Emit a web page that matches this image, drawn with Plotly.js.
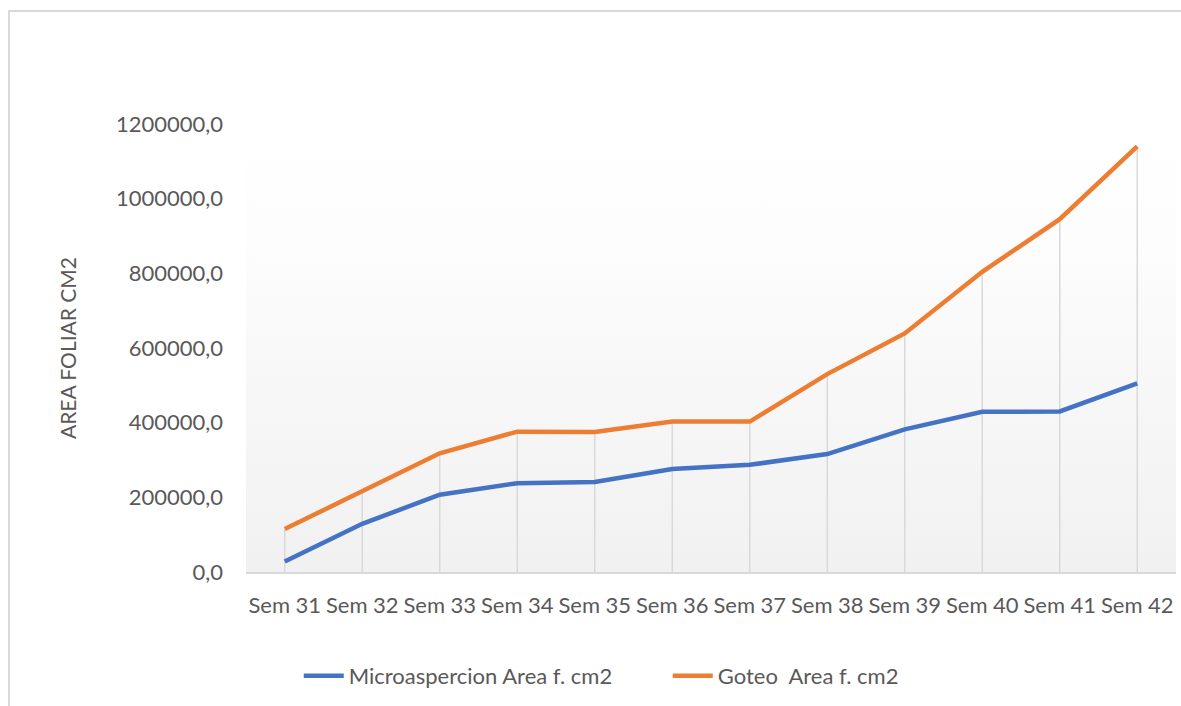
<!DOCTYPE html>
<html>
<head>
<meta charset="utf-8">
<script src="https://cdn.plot.ly/plotly-3.0.1.min.js"></script>
<style>
  html, body { margin: 0; padding: 0; background: #ffffff; }
  #wrap { position: relative; width: 1181px; height: 706px; overflow: hidden; }
  #frame { position: absolute; left: 8px; top: 10px; width: 1200px; height: 720px;
           border-left: 2px solid #d9d9d9; border-top: 2px solid #d9d9d9; box-sizing: border-box; }
  #plotbg { position: absolute; background: linear-gradient(to bottom, #ffffff 0%, #fdfdfd 25%, #f7f7f7 60%, #f1f1f1 100%); }
  #chart { position: absolute; left: 0; top: 0; width: 1181px; height: 706px; }
</style>
</head>
<body>
<div id="wrap">
  <div id="frame"></div>
  <div id="plotbg"></div>
  <div id="chart"></div>
</div>
<script>
// Weekly leaf area (cm2) for the two irrigation systems
const weeks = ["Sem 31", "Sem 32", "Sem 33", "Sem 34", "Sem 35", "Sem 36",
               "Sem 37", "Sem 38", "Sem 39", "Sem 40", "Sem 41", "Sem 42"];
const microaspercion = [28000, 129000, 207000, 238000, 241000, 276000,
                        287000, 316000, 382000, 429000, 430000, 505000];
const goteo = [115000, 216000, 318000, 376000, 375000, 403000,
               403000, 530000, 639000, 804000, 945000, 1140000];
const seriesNames = ["Microaspercion Area f. cm2", "Goteo  Area f. cm2"];
const yTicks = [0, 200000, 400000, 600000, 800000, 1000000, 1200000];

const W = 1181, H = 706;
const margin = { l: 246, r: 5, t: 124, b: 134 };

// gradient panel behind the plotting area
const bg = document.getElementById('plotbg');
bg.style.left = margin.l + 'px';
bg.style.top = margin.t + 'px';
bg.style.width = (W - margin.l - margin.r) + 'px';
bg.style.height = (H - margin.t - margin.b) + 'px';

// drop lines: from the axis up to the highest series value of each week
const dropX = [], dropY = [];
weeks.forEach((w, i) => {
  const top = Math.max(microaspercion[i], goteo[i]);
  dropX.push(w, w, null);
  dropY.push(0, top, null);
});

const font = { family: "Lato, 'Open Sans', sans-serif", size: 22, color: '#595959' };
const titleFont = { family: "Lato, 'Open Sans', sans-serif", size: 21, color: '#595959' };

const traces = [
  { x: dropX, y: dropY, type: 'scatter', mode: 'lines',
    line: { color: '#d9d9d9', width: 1.5 }, showlegend: false, hoverinfo: 'skip' },
  { x: weeks, y: microaspercion, name: seriesNames[0], type: 'scatter', mode: 'lines',
    line: { color: '#4472C4', width: 4.5 } },
  { x: weeks, y: goteo, name: seriesNames[1], type: 'scatter', mode: 'lines',
    line: { color: '#ED7D31', width: 4.5 } }
];

const layout = {
  width: W, height: H,
  margin: margin,
  paper_bgcolor: 'rgba(0,0,0,0)',
  plot_bgcolor: 'rgba(0,0,0,0)',
  font: font,
  separators: ',.',
  showlegend: true,
  xaxis: {
    type: 'category',
    range: [-0.5, weeks.length - 0.5],
    showgrid: false, zeroline: false,
    showline: true, linecolor: '#d9d9d9', linewidth: 1.5,
    ticks: '', ticklabelstandoff: 13,
    tickfont: font, fixedrange: true
  },
  yaxis: {
    range: [0, 1200000],
    tickvals: yTicks, tickformat: '.1f',
    showgrid: false, zeroline: false, showline: false,
    ticks: '', ticklabelstandoff: 22,
    tickfont: font,
    title: { text: 'AREA FOLIAR CM2', font: titleFont, standoff: 33 },
    fixedrange: true
  },
  legend: {
    orientation: 'h',
    x: 0.4535, xanchor: 'center',
    y: -0.232, yanchor: 'middle',
    font: font,
    bgcolor: 'rgba(0,0,0,0)',
    itemwidth: 40,
    entrywidth: 314, entrywidthmode: 'pixels',
    traceorder: 'normal'
  }
};

Plotly.newPlot('chart', traces, layout, { displayModeBar: false, staticPlot: true });
</script>
</body>
</html>
